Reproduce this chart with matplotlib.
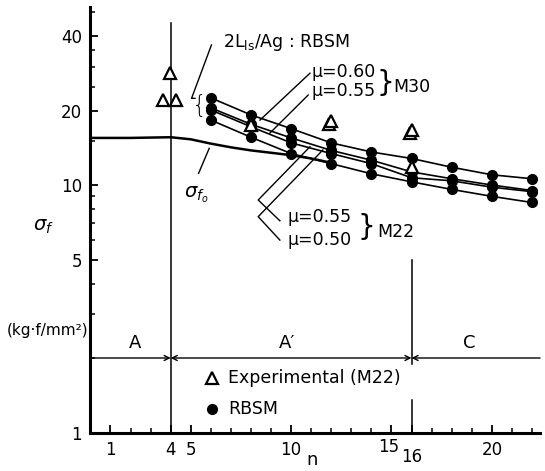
import matplotlib
matplotlib.use("Agg")
import matplotlib.pyplot as plt
import matplotlib.transforms as mtransforms
import numpy as np

plt.rcParams['font.family'] = ['DejaVu Sans']
plt.rcParams['mathtext.fontset'] = 'dejavusans'

# ---------------- data ----------------
n_rbsm = [6, 8, 10, 12, 14, 16, 18, 20, 22]
m30_mu060 = [22.5, 19.2, 16.9, 14.8, 13.6, 12.8, 11.8, 11.0, 10.6]
m30_mu055 = [20.5, 17.6, 15.5, 13.8, 12.6, 11.3, 10.6, 10.0, 9.5]
m22_mu055 = [20.1, 17.2, 14.8, 13.4, 12.2, 10.7, 10.4, 9.8, 9.4]
m22_mu050 = [18.3, 15.6, 13.4, 12.2, 11.1, 10.3, 9.6, 9.0, 8.5]

n_sf0 = [0, 2, 4, 5, 6, 7, 8, 9, 10, 11, 12]
sf0 = [15.5, 15.5, 15.6, 15.3, 14.7, 14.2, 13.8, 13.5, 13.2, 12.8, 12.3]

n_exp = [3.6, 3.95, 4.25, 8.0, 11.9, 12.0, 15.9, 16.0, 16.0]
sf_exp = [22.0, 28.4, 22.0, 17.5, 17.6, 18.1, 16.3, 16.7, 11.8]

xtick_vals = [1, 4, 5, 10, 15, 16, 20]
xtick_labels = ['1', '4', '5', '10', '15', '16', '20']
ytick_vals = [1, 5, 10, 20, 40]
ytick_labels = ['1', '5', '10', '20', '40']
yminor_vals = [2, 3, 4, 6, 7, 8, 9, 15, 25, 30, 35, 50]

regions = ['A', "A\u2032", 'C']
region_x = [2.2, 9.8, 18.9]
region_bounds = [4, 16]

# ---------------- figure ----------------
fig = plt.figure(figsize=(5.45, 4.71), dpi=100)
ax = fig.add_axes([90.4 / 545, 1 - 432.5 / 471, (540 - 90.4) / 545, (432.5 - 7) / 471])
ax.set_yscale('log')
ax.set_xlim(0, 22.4)
ax.set_ylim(1, 52.4)

for s in ['top', 'right']:
    ax.spines[s].set_visible(False)
for s in ['left', 'bottom']:
    ax.spines[s].set_linewidth(2.2)

ax.set_xticks(xtick_vals)
ax.set_xticklabels(xtick_labels, fontsize=12)
ax.set_xticks(range(1, 23), minor=True)
ax.set_yticks(ytick_vals)
ax.set_yticklabels(ytick_labels, fontsize=12)
ax.set_yticks(yminor_vals, minor=True)
ax.yaxis.set_minor_formatter(matplotlib.ticker.NullFormatter())
ax.tick_params(axis='both', which='major', direction='in', length=6, width=1.3, pad=6)
ax.tick_params(axis='both', which='minor', direction='in', length=3.5, width=1.1)

# shift the 15 / 16 labels
for lab in ax.get_xticklabels():
    t = lab.get_text()
    if t == '15':
        lab.set_transform(lab.get_transform() + mtransforms.ScaledTranslation(-2 / 72, 2 / 72, fig.dpi_scale_trans))
    if t == '16':
        lab.set_transform(lab.get_transform() + mtransforms.ScaledTranslation(0, -5 / 72, fig.dpi_scale_trans))

# vertical region lines
ax.plot([region_bounds[0]] * 2, [1, 45], color='black', lw=1.1, zorder=1)
ax.plot([region_bounds[1]] * 2, [1.9, 5.0], color='black', lw=1.1, zorder=1)
ax.plot([region_bounds[1]] * 2, [1.0, 1.35], color='black', lw=1.1, zorder=1)

# horizontal region arrows
arr_y = 2.0
akw = dict(lw=1.0, color='black', shrinkA=0, shrinkB=0, mutation_scale=9)
ax.annotate('', xy=(region_bounds[0], arr_y), xytext=(0, arr_y), arrowprops=dict(arrowstyle='->', **akw))
ax.annotate('', xy=(region_bounds[0], arr_y), xytext=(region_bounds[1], arr_y), arrowprops=dict(arrowstyle='<->', **akw))
ax.annotate('', xy=(region_bounds[1], arr_y), xytext=(22.4, arr_y), arrowprops=dict(arrowstyle='->', **akw))
for r, rx in zip(regions, region_x):
    ax.text(rx, 2.29, r, ha='center', va='center', fontsize=13)

# sigma_f0 curve
ax.plot(n_sf0, sf0, color='black', lw=1.8, zorder=2)

# RBSM series
for ser in [m30_mu060, m30_mu055, m22_mu055, m22_mu050]:
    ax.plot(n_rbsm, ser, color='black', lw=1.2, marker='o', markersize=7, zorder=3)

# experimental
ax.plot(n_exp, sf_exp, linestyle='none', marker='^', markersize=9, markerfacecolor='white',
        markeredgecolor='black', markeredgewidth=1.6, zorder=4)

# ---------------- annotations ----------------
lk = dict(color='black', lw=1.0, zorder=2)
# 2L_ls/Ag : RBSM
ax.text(6.6, 37.5, r'2L$_{\rm ls}$/Ag : RBSM', fontsize=12.5, ha='left', va='center')
ax.plot([6.03, 5.04, 5.21], [36.8, 22.4, 22.4], **lk)
ax.text(5.45, 20.9, '{', fontsize=17, ha='center', va='center', fontweight='light')

# M30
ax.text(11.03, 28.7, '\u03bc=0.60', fontsize=12.5, ha='left', va='center')
ax.text(11.03, 24.0, '\u03bc=0.55', fontsize=12.5, ha='left', va='center')
ax.text(14.7, 25.9, '}', fontsize=20, ha='center', va='center')
ax.text(15.1, 25.0, 'M30', fontsize=12.5, ha='left', va='center')
ax.plot([10.94, 8.45], [28.3, 18.3], **lk)
ax.plot([10.85, 8.94], [23.1, 16.2], **lk)

# M22
ax.text(9.84, 7.45, '\u03bc=0.55', fontsize=12.5, ha='left', va='center')
ax.text(9.84, 5.99, '\u03bc=0.50', fontsize=12.5, ha='left', va='center')
ax.text(13.77, 6.75, '}', fontsize=20, ha='center', va='center')
ax.text(14.27, 6.48, 'M22', fontsize=12.5, ha='left', va='center')
ax.plot([10.94, 8.36, 9.44], [14.28, 8.70, 7.17], **lk)
ax.plot([11.58, 8.36, 9.44], [13.85, 7.45, 5.99], **lk)

# sigma_f0 label
ax.text(5.25, 9.1, r'$\sigma_{f_o}$', fontsize=14, ha='center', va='center')
ax.plot([5.92, 5.39], [14.07, 11.15], **lk)

# legend
ax.plot([6.08], [1.656], linestyle='none', marker='^', markersize=9, markerfacecolor='white',
        markeredgecolor='black', markeredgewidth=1.6)
ax.text(6.85, 1.656, 'Experimental (M22)', fontsize=12.5, ha='left', va='center')
ax.plot([6.08], [1.25], linestyle='none', marker='o', markersize=7, color='black')
ax.text(6.85, 1.25, 'RBSM', fontsize=12.5, ha='left', va='center')

# axis labels
fig.text(43 / 545, 1 - 226.7 / 471, r'$\sigma_f$', fontsize=14, ha='center', va='center')
fig.text(48 / 545, 1 - 330 / 471, '(kg\u00b7f/mm\u00b2)', fontsize=11, ha='center', va='center')
fig.text(311.7 / 545, 2 / 471, 'n', fontsize=13, ha='center', va='bottom')

fig.savefig('out.png', dpi=100)
